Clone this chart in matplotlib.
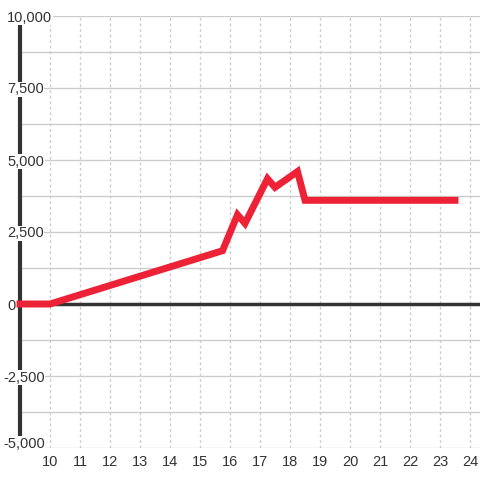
import matplotlib
matplotlib.use("Agg")
import matplotlib.pyplot as plt
import matplotlib.transforms as mtransforms

# data
hours = [9, 10, 15.75, 16.25, 16.5, 17.25, 17.5, 18.25, 18.5, 23.5]
values = [0, 0, 1850, 3100, 2800, 4350, 4050, 4600, 3600, 3600]
x_ticks = list(range(10, 25))
y_ticks = [-5000, -2500, 0, 2500, 5000, 7500, 10000]
y_minor = [-3750, -1250, 1250, 3750, 6250, 8750]

plt.rcParams['font.family'] = ['Liberation Sans', 'DejaVu Sans']
text_color = '#333333'
grid_color = '#cccccc'

fig = plt.figure(figsize=(4.8, 4.8), dpi=100)
ax = fig.add_axes([20 / 480, 32 / 480, 460 / 480, 432 / 480])
ax.set_xlim(9, 9 + 460 / 30)
ax.set_ylim(-5000, 10000)
for s in ax.spines.values():
    s.set_visible(False)
ax.set_xticks([])
ax.set_yticks([])

# grid
for v in y_ticks + y_minor:
    if v == 0:
        continue
    ax.axhline(v, color=grid_color, lw=1, zorder=1)
for h in x_ticks:
    ax.axvline(h, color=grid_color, lw=1, ls=(0, (2, 2)), zorder=1)

# left spine and zero line
ax.axvline(9, color=text_color, lw=3, zorder=2, clip_on=False)
ax.axhline(0, color=text_color, lw=2.5, zorder=2)

ax.plot(hours, values, color='#ee2236', lw=5, zorder=5,
        solid_joinstyle='miter', solid_capstyle='projecting', clip_on=False)

# y labels, left aligned over the spine with a white box
for v in y_ticks:
    dx = 7 if v >= 0 else 3
    dy = 6 if v == min(y_ticks) else 0  # bottom label sits inside the plot
    tr = mtransforms.blended_transform_factory(
        ax.transAxes, ax.transData) + mtransforms.ScaledTranslation(
        (dx - 20) / 100, dy / 100, fig.dpi_scale_trans)
    ax.text(0, v, f"{v:,}", transform=tr, ha='left',
            va='center_baseline', fontsize=10.5, color=text_color,
            zorder=10, clip_on=False,
            bbox=dict(facecolor='white', edgecolor='none', pad=0.5))

# x labels
for h in x_ticks:
    ax.text(h, -5000, str(h), ha='center', va='top', fontsize=10.5,
            color=text_color,
            transform=ax.transData + mtransforms.ScaledTranslation(
                0, -7 / 100, fig.dpi_scale_trans), clip_on=False)

fig.savefig('out.png', dpi=100, facecolor='white')
